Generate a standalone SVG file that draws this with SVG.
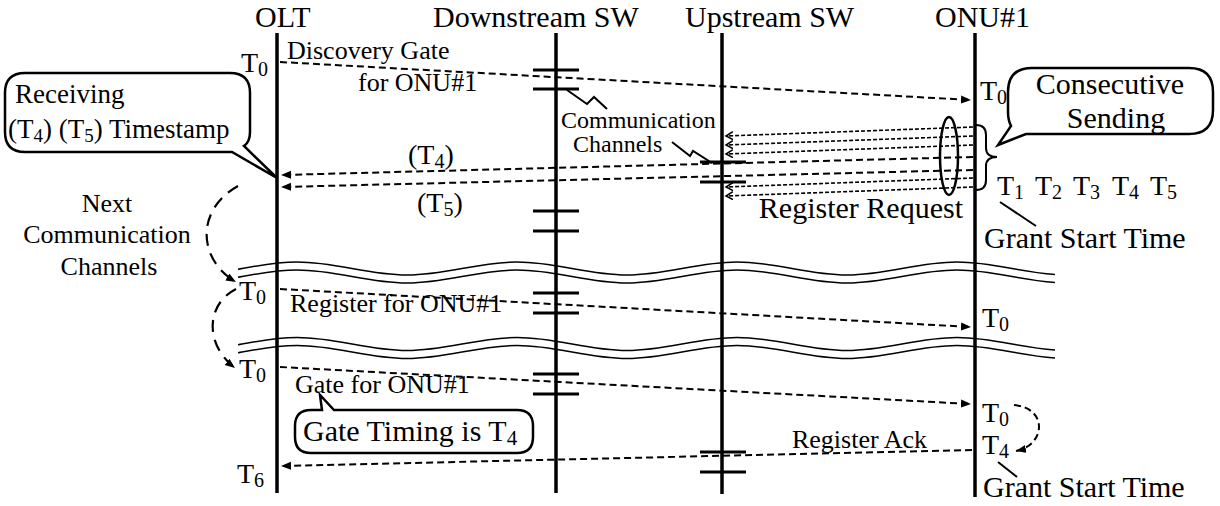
<svg xmlns="http://www.w3.org/2000/svg" width="1220" height="506" viewBox="0 0 1220 506">
<style>
text{font-family:"Liberation Serif","Times New Roman",serif;fill:#000}
.hd{font-size:30px}
.lb{font-size:26px}
.tl{font-size:28px}
.sm{font-size:24px}
.life{stroke:#000;stroke-width:3.5}
.bar{stroke:#000;stroke-width:3}
.msg{stroke:#000;stroke-width:2;stroke-dasharray:7 4;fill:none}
.fine{stroke:#000;stroke-width:1.6;stroke-dasharray:4 2;fill:none}
.loop{stroke:#000;stroke-width:2.2;stroke-dasharray:12 8;fill:none}
.wave{stroke:#000;stroke-width:1.5;fill:none}
.box{stroke:#000;stroke-width:2.5;fill:#fff}
.ln{stroke:#000;stroke-width:2;fill:none}
</style>
<defs>
<marker id="ah" markerUnits="userSpaceOnUse" markerWidth="12" markerHeight="10" refX="10" refY="4" orient="auto"><path d="M0,0 L10,4 L0,8 z" fill="#000"/></marker>
<marker id="ch" markerUnits="userSpaceOnUse" markerWidth="10" markerHeight="10" refX="7" refY="4" orient="auto"><path d="M0,0 L7,4 L0,8" fill="none" stroke="#000" stroke-width="1.5"/></marker>
<path id="wv" d="M187 6.5 C227 6.5 257 -6.5 297 -6.5 C337 -6.5 367 6.5 407 6.5 C447 6.5 477 -6.5 517 -6.5 C557 -6.5 587 6.5 627 6.5 C667 6.5 697 -6.5 737 -6.5 C777 -6.5 807 6.5 847 6.5 C887 6.5 917 -6.5 957 -6.5 C997 -6.5 1027 6.5 1067 6.5"/>
<clipPath id="wclip"><rect x="238" y="0" width="817" height="506"/></clipPath>
</defs>

<g id="olt">
<text class="hd" x="255" y="27">OLT</text>
<line class="life" x1="277" y1="33" x2="277" y2="493"/>
<text class="tl" x="241" y="72">T<tspan font-size="20" dy="4">0</tspan></text>
<text class="tl" x="239" y="300">T<tspan font-size="20" dy="4">0</tspan></text>
<text class="tl" x="239" y="378">T<tspan font-size="20" dy="4">0</tspan></text>
<text class="tl" x="237" y="483">T<tspan font-size="20" dy="4">6</tspan></text>
</g>

<g id="downstream-sw">
<text class="hd" x="433" y="27">Downstream SW</text>
<line class="life" x1="556" y1="33" x2="556" y2="493"/>
<line class="bar" x1="533" y1="70" x2="579" y2="70"/>
<line class="bar" x1="533" y1="89" x2="579" y2="89"/>
<line class="bar" x1="533" y1="211" x2="579" y2="211"/>
<line class="bar" x1="533" y1="231" x2="579" y2="231"/>
<line class="bar" x1="533" y1="293" x2="579" y2="293"/>
<line class="bar" x1="533" y1="313" x2="579" y2="313"/>
<line class="bar" x1="533" y1="374" x2="579" y2="374"/>
<line class="bar" x1="533" y1="394" x2="579" y2="394"/>
</g>

<g id="upstream-sw">
<text class="hd" x="685" y="27">Upstream SW</text>
<line class="life" x1="722" y1="33" x2="722" y2="494"/>
<line class="bar" x1="700" y1="162" x2="746" y2="162"/>
<line class="bar" x1="700" y1="182" x2="746" y2="182"/>
<line class="bar" x1="700" y1="452" x2="746" y2="452"/>
<line class="bar" x1="700" y1="472" x2="746" y2="472"/>
</g>

<g id="onu1">
<text class="hd" x="935" y="27">ONU#1</text>
<line class="life" x1="975" y1="33" x2="975" y2="497"/>
<text class="tl" x="980" y="100">T<tspan font-size="20" dy="4">0</tspan></text>
<text class="tl" x="982" y="327">T<tspan font-size="20" dy="4">0</tspan></text>
<text class="tl" x="982" y="422">T<tspan font-size="20" dy="4">0</tspan></text>
<text class="tl" x="982" y="454">T<tspan font-size="20" dy="4">4</tspan></text>
<text class="tl" x="997" y="195">T<tspan font-size="20" dy="4">1</tspan></text>
<text class="tl" x="1035" y="195">T<tspan font-size="20" dy="4">2</tspan></text>
<text class="tl" x="1073" y="195">T<tspan font-size="20" dy="4">3</tspan></text>
<text class="tl" x="1112" y="195">T<tspan font-size="20" dy="4">4</tspan></text>
<text class="tl" x="1150" y="195">T<tspan font-size="20" dy="4">5</tspan></text>
<path class="ln" d="M976 125 Q986 125 986 135 V148 Q986 157 997 157 Q986 157 986 166 V180 Q986 190 976 190"/>
<text class="hd" x="984" y="248">Grant Start Time</text>
<line class="ln" x1="1000" y1="202" x2="1036" y2="226"/>
<text class="hd" x="983" y="497">Grant Start Time</text>
<line class="ln" x1="998" y1="462" x2="1017" y2="477"/>
</g>

<g id="breaks" clip-path="url(#wclip)">
<use href="#wv" class="wave" transform="translate(0,268.5)"/>
<use href="#wv" class="wave" transform="translate(0,276.5)"/>
<use href="#wv" class="wave" transform="translate(0,344)"/>
<use href="#wv" class="wave" transform="translate(0,352)"/>
</g>

<g id="connectors">
<line class="msg" x1="280" y1="62" x2="971" y2="100" marker-end="url(#ah)"/>
<line class="fine" x1="973" y1="127" x2="726" y2="136" marker-end="url(#ch)"/>
<line class="fine" x1="973" y1="136" x2="726" y2="145" marker-end="url(#ch)"/>
<line class="fine" x1="973" y1="145" x2="726" y2="154" marker-end="url(#ch)"/>
<line class="msg" x1="973" y1="157" x2="281" y2="175" marker-end="url(#ah)"/>
<line class="msg" x1="973" y1="170" x2="281" y2="187" marker-end="url(#ah)"/>
<line class="fine" x1="973" y1="178" x2="726" y2="187" marker-end="url(#ch)"/>
<line class="fine" x1="973" y1="187" x2="726" y2="196" marker-end="url(#ch)"/>
<ellipse cx="949" cy="156" rx="9" ry="39" fill="none" stroke="#000" stroke-width="2.5"/>
<line class="msg" x1="280" y1="289" x2="971" y2="327" marker-end="url(#ah)"/>
<line class="msg" x1="280" y1="367" x2="971" y2="404" marker-end="url(#ah)"/>
<line class="msg" x1="972" y1="450" x2="281" y2="466" marker-end="url(#ah)"/>
<path class="msg" d="M1014 405 C1048 408 1046 445 1016 451" marker-end="url(#ah)"/>
<path class="loop" d="M238 186 C195 210 198 260 236 282" marker-end="url(#ah)"/>
<path class="loop" d="M236 289 C205 305 205 345 235 368" marker-end="url(#ah)"/>
<polyline class="ln" points="567,90 587,104 594,97 607,109"/>
<polyline class="ln" points="672,142 690,156 693,151 712,163"/>
</g>

<g id="labels">
<text class="lb" x="287" y="59">Discovery Gate</text>
<text class="lb" x="358" y="91">for ONU#1</text>
<text class="sm" x="561" y="128">Communication</text>
<text class="sm" x="573" y="152">Channels</text>
<text class="tl" x="408" y="164">(T<tspan font-size="20" dy="4">4</tspan><tspan dy="-4">)</tspan></text>
<text class="tl" x="417" y="212">(T<tspan font-size="20" dy="4">5</tspan><tspan dy="-4">)</tspan></text>
<text class="hd" x="963" y="218" text-anchor="end">Register Request</text>
<text class="lb" x="107" y="212" text-anchor="middle">Next</text>
<text class="lb" x="107" y="243" text-anchor="middle">Communication</text>
<text class="lb" x="109" y="275" text-anchor="middle">Channels</text>
<text class="lb" x="290" y="312">Register for ONU#1</text>
<text class="lb" x="295" y="393">Gate for ONU#1</text>
<text class="lb" x="927" y="448" text-anchor="end">Register Ack</text>
</g>

<g id="callout-receiving">
<path class="box" d="M25 73 H230 Q250 73 250 93 V132 Q250 142 244 146 L277 178 L232 152 H25 Q5 152 5 132 V93 Q5 73 25 73 Z"/>
<text x="15" y="103" style="font-size:27px">Receiving</text>
<text x="8" y="138" style="font-size:27px">(T<tspan font-size="19" dy="4">4</tspan><tspan dy="-4">) (T</tspan><tspan font-size="19" dy="4">5</tspan><tspan dy="-4">) Timestamp</tspan></text>
</g>

<g id="callout-consecutive">
<path class="box" d="M1032 68 H1189 Q1213 68 1213 92 V110 Q1213 134 1189 134 H1026 L998 145 L1011 126 Q1008 120 1008 112 V92 Q1008 68 1032 68 Z"/>
<text x="1110" y="94" text-anchor="middle" style="font-size:30px">Consecutive</text>
<text x="1116" y="127.5" text-anchor="middle" style="font-size:30px">Sending</text>
</g>

<g id="callout-gate-timing">
<path class="box" d="M311 410 H322 L320 395 L334 410 H517 Q533 410 533 426 V437 Q533 453 517 453 H311 Q295 453 295 437 V426 Q295 410 311 410 Z"/>
<text x="303" y="441" style="font-size:30px">Gate Timing is T<tspan font-size="21" dy="4">4</tspan></text>
</g>
</svg>
